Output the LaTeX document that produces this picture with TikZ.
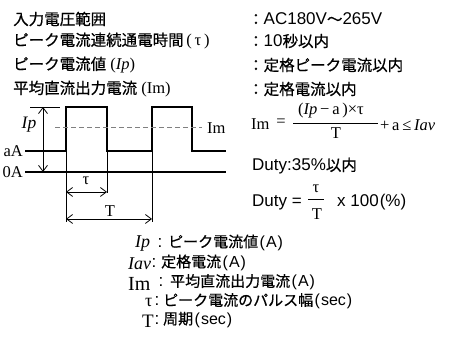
\documentclass[tikz,border=0pt]{standalone}
\usepackage{fontspec}
\setmainfont{Liberation Serif}
\newfontfamily\jpfam[FakeBold=0.6]{Noto Sans CJK JP}
\newfontfamily\safam{Liberation Sans}
\usetikzlibrary{arrows.meta}
\newcommand\myjp{\jpfam\fontsize{15.5}{17}\selectfont}
\newcommand\mylg{\jpfam\fontsize{15}{17}\selectfont}
\newcommand\mysa{\safam\fontsize{17}{19}\selectfont}
\newcommand\myse{\rmfamily\fontsize{16.5}{18}\selectfont}
\newcommand\mypa[1]{{\safam\fontsize{16}{17}\selectfont\kern1.5pt(\kern1pt#1\kern1pt)}}
\tikzset{
  txt/.style={inner sep=0pt, anchor=west},
  ctr/.style={inner sep=0pt, anchor=center},
  legt/.style={txt, font=\mylg, text height=11pt, text depth=2.5pt},
  wave/.style={line width=1.6pt, line join=miter},
  baseln/.style={line width=1.2pt},
  thinln/.style={line width=0.8pt},
  dashln/.style={line width=1pt, gray, dash pattern=on 5pt off 3pt},
  dimarr/.style={line width=0.8pt, {Straight Barb[length=6pt,width=9pt,line width=0.8pt]}-{Straight Barb[length=6pt,width=9pt,line width=0.8pt]}},
}
\begin{document}
\begin{tikzpicture}[x=1pt,y=-1pt]
\useasboundingbox (0,0) rectangle (459,345);
% ---- top specification rows
\node[txt, font=\myjp] (r1) at (13,19) {入力電圧範囲};
\node[txt, font=\myjp] (r2) at (13,41) {ピーク電流連続通電時間{\myse\,(\,τ\,)}};
\node[txt, font=\myjp] (r3) at (13,65) {ピーク電流値{\myse\ (\textit{Ip})}};
\node[txt, font=\myjp] (r4) at (13,89) {平均直流出力電流{\myse\ (Im)}};
\node[txt, font=\myjp] (v1) at (248,19) {：{\mysa AC180V}～{\mysa 265V}};
\node[txt, font=\myjp] (v2) at (248,41) {：{\mysa 10}秒以内};
\node[txt, font=\myjp] (v3) at (248,65) {：定格ピーク電流以内};
\node[txt, font=\myjp] (v4) at (248,89) {：定格電流以内};
% ---- waveform
\coordinate (topL) at (30,107);
\coordinate (topR) at (60,107);
\coordinate (arT) at (43,107);
\coordinate (arB) at (43,172);
\draw[thinln] (topL) -- (topR);
\draw[dimarr] (arT) -- (arB);
\coordinate (a0) at (25,151);
\coordinate (p1u) at (66,151);
\coordinate (p1d) at (107,151);
\coordinate (p2u) at (152,151);
\coordinate (p2d) at (192,151);
\coordinate (aE) at (226,151);
\draw[wave] (a0) -- (p1u) -- (66,107) -- (107,107) -- (p1d) -- (p2u) -- (152,107) -- (192,107) -- (p2d) -- (aE);
\coordinate (z0) at (25,172);
\coordinate (zE) at (226,172);
\draw[baseln] (z0) -- (zE);
\coordinate (m0) at (55,128);
\coordinate (mE) at (202,128);
\draw[dashln] (m0) -- (mE);
\coordinate (t1b) at (66,222);
\coordinate (t2b) at (107,193);
\coordinate (t3b) at (152,222);
\draw[thinln] (p1u) -- (t1b);
\draw[thinln] (p1d) -- (t2b);
\draw[thinln] (p2u) -- (t3b);
\coordinate (tauL) at (66,192);
\coordinate (tauR) at (107,192);
\coordinate (TL) at (66,219);
\coordinate (TR) at (152,219);
\draw[dimarr] (tauL) -- (tauR);
\draw[dimarr] (TL) -- (TR);
\node[ctr, font=\rmfamily\itshape\fontsize{17.5}{18}\selectfont] (lIp) at (29,125) {Ip};
\node[inner sep=0pt, anchor=east, font=\myse] (laA) at (23,151) {aA};
\node[inner sep=0pt, anchor=east, font=\myse] (l0A) at (23,172) {0A};
\node[txt, font=\myse] (lIm) at (207,128) {Im};
\node[ctr, font=\myse] (ltau) at (86,181) {τ};
\node[ctr, font=\myse] (lT) at (110,211) {T};
% ---- formula Im
\node[txt, font=\myse] (fIm) at (251,124) {Im};
\node[ctr, font=\myse] (feq) at (281,123) {=};
\node[ctr, font=\myse] (fnum) at (331,111) {(\textit{Ip}\,−\,a\,)×τ};
\coordinate (fbL) at (293,123);
\coordinate (fbR) at (378,123);
\draw[line width=0.8pt] (fbL) -- (fbR);
\node[ctr, font=\myse] (fden) at (336,133) {T};
\node[txt, font=\myse] (frest) at (380,125) {+\,a\,≤\,\textit{Iav}};
% ---- duty
\node[txt, font=\mysa] (d1) at (252,166) {Duty:35\%{\myjp 以内}};
\node[txt, font=\mysa] (d2) at (252,202) {Duty =};
\node[ctr, font=\myse] (dnum) at (316,189) {τ};
\coordinate (dbL) at (308,199);
\coordinate (dbR) at (324,199);
\draw[line width=0.8pt] (dbL) -- (dbR);
\node[ctr, font=\myse] (dden) at (317,214) {T};
\node[txt, font=\mysa] (d3) at (337,202) {x 100{\kern1pt(\%)}};
% ---- legend
\node[txt, font=\rmfamily\itshape\fontsize{18}{18}\selectfont] (g1s) at (135,244) {Ip};
\node[ctr, font=\mysa] (g1c) at (160,243) {:};
\node[legt] (g1t) at (168,243) {ピーク電流値\mypa{A}};
\node[txt, font=\rmfamily\itshape\fontsize{18}{18}\selectfont] (g2s) at (128,264) {Iav};
\node[ctr, font=\mysa] (g2c) at (154,263) {:};
\node[legt] (g2t) at (161,263) {定格電流\mypa{A}};
\node[txt, font=\rmfamily\fontsize{20}{20}\selectfont] (g3s) at (128,283.5) {Im};
\node[ctr, font=\mysa] (g3c) at (161,282.5) {:};
\node[legt] (g3t) at (170,282.5) {平均直流出力電流\mypa{A}};
\node[txt, font=\rmfamily\fontsize{18}{18}\selectfont] (g4s) at (145,302.5) {τ};
\node[ctr, font=\mysa] (g4c) at (157,301.5) {:};
\node[legt] (g4t) at (163,301.5) {ピーク電流のパルス幅\mypa{sec}};
\node[txt, font=\rmfamily\fontsize{19}{19}\selectfont] (g5s) at (142,321) {T};
\node[ctr, font=\mysa] (g5c) at (157,320) {:};
\node[legt] (g5t) at (163,320) {周期\mypa{sec}};
\end{tikzpicture}
\end{document}
